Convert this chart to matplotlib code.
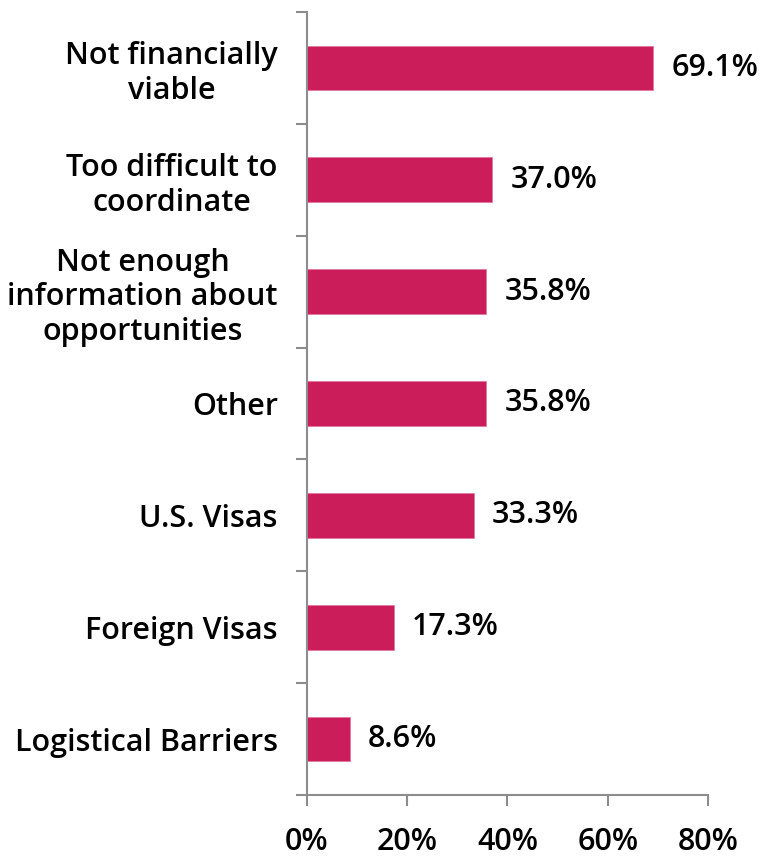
import matplotlib
matplotlib.use("Agg")
import matplotlib.pyplot as plt
from matplotlib.ticker import FuncFormatter, FixedLocator

categories = [
    "Not financially\nviable",
    "Too difficult to\ncoordinate",
    "Not enough\ninformation about\nopportunities",
    "Other",
    "U.S. Visas",
    "Foreign Visas",
    "Logistical Barriers",
]
values = [69.1, 37.0, 35.8, 35.8, 33.3, 17.3, 8.6]
x_ticks = [0, 20, 40, 60, 80]

bar_color = "#CC1D5B"
spine_color = "#8C8C8C"
font = ["Open Sans", "DejaVu Sans"]
fs = 22
weight = "semibold"

fig = plt.figure(figsize=(7.64, 8.56), dpi=100)
ax = fig.add_axes([0.4018, 0.0713, 0.5249, 0.9147])

n = len(categories)
ypos = list(range(n))
ax.barh(ypos, values, height=0.4, color=bar_color, edgecolor="#E07A9C", linewidth=0.6)
ax.set_ylim(n - 0.5, -0.5)
ax.set_xlim(0, 80)

for y, v in zip(ypos, values):
    ax.text(v + 3.6, y, f"{v:.1f}%", va="center", ha="left",
            fontsize=fs, family=font, weight=weight, color="black")

# category labels centred on bars, ticks on band boundaries
ax.set_yticks(ypos)
ax.set_yticklabels(categories, fontsize=fs, family=font, weight=weight,
                   multialignment="center", linespacing=1.2)
ax.tick_params(axis="y", which="major", length=0, pad=21)
ax.yaxis.set_minor_locator(FixedLocator([i - 0.5 for i in range(n + 1)]))
ax.tick_params(axis="y", which="minor", length=8, width=1.5, color=spine_color)

ax.xaxis.set_major_locator(FixedLocator(x_ticks))
ax.xaxis.set_major_formatter(FuncFormatter(lambda v, p: f"{v:.0f}%"))
ax.tick_params(axis="x", length=8, width=1.5, color=spine_color, pad=15, labelsize=fs)
for lbl in ax.get_xticklabels():
    lbl.set_family(font)
    lbl.set_weight(weight)

for s in ["top", "right"]:
    ax.spines[s].set_visible(False)
for s in ["left", "bottom"]:
    ax.spines[s].set_color(spine_color)
    ax.spines[s].set_linewidth(1.5)

fig.savefig("out.png", dpi=100)
